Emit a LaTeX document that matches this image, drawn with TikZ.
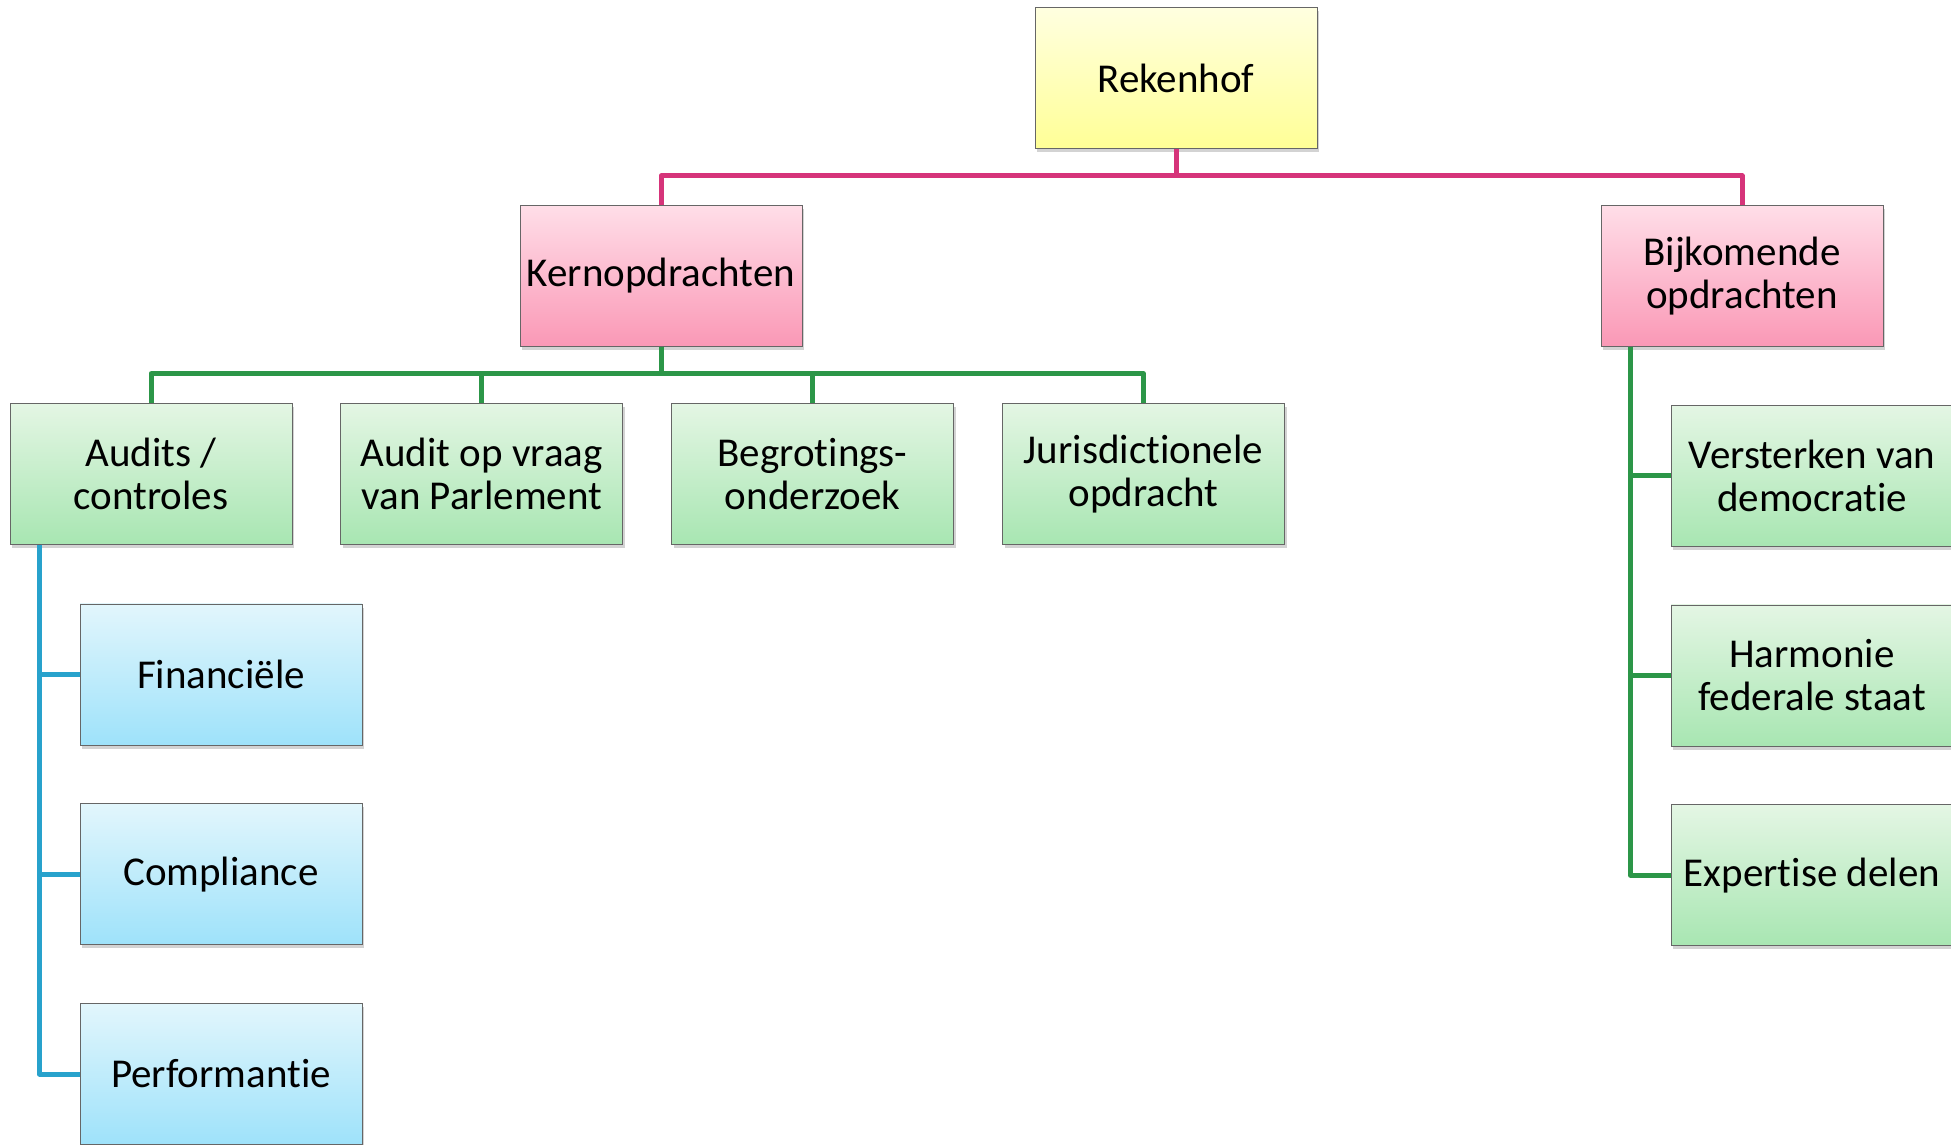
\documentclass[tikz,border=0pt]{standalone}
\usepackage{fontspec}
\setmainfont[Ligatures=NoCommon]{Carlito}
\usepackage{tikz}
\usetikzlibrary{positioning,shadows}

\definecolor{lijnroze}{RGB}{214,52,122}
\definecolor{lijngroen}{RGB}{44,150,72}
\definecolor{lijnblauw}{RGB}{40,162,204}

\begin{document}
\begin{tikzpicture}[node distance=29pt]
	\tikzstyle{box}
	  =[draw=gray!80!black, rectangle, minimum width=141pt, 
	  minimum height=70.5pt, align=center, inner sep=2pt,
	  font=\fontsize{20.5}{21.5}\selectfont,
	  drop shadow={shadow xshift=1.2pt, shadow yshift=-1.8pt, opacity=0.35}]
	\tikzstyle{box_geel}
	  =[box, top color={rgb,255:red,255;green,255;blue,224}, 
	  bottom color={rgb,255:red,255;green,255;blue,150}]
	\tikzstyle{box_roze}
	  =[box, top color={rgb,255:red,255;green,222;blue,232}, 
	  bottom color={rgb,255:red,250;green,152;blue,182}]
	\tikzstyle{box_groen}
	  =[box, top color={rgb,255:red,228;green,246;blue,228}, 
	  bottom color={rgb,255:red,168;green,230;blue,178}]
	\tikzstyle{box_blauw}
	  =[box, top color={rgb,255:red,226;green,246;blue,252}, 
	  bottom color={rgb,255:red,158;green,226;blue,250}]
	\tikzstyle{lijn}
	  =[line width=2.5pt, line join=round]

	\useasboundingbox (0,0) rectangle (975.5pt,-572.5pt);

	\node[box_geel] (rek) at (588pt,-39pt) {Rekenhof};
	\node[box_roze] (kern)
	  [below=28pt of rek, xshift=-257.5pt] {Kernopdrachten};
	\node[box_roze] (bijk)
	  [below=28pt of rek, xshift=283pt] {Bijkomende\\opdrachten};

	\node[box_groen] (audits)
	  [below=28pt of kern, xshift=-255pt] {Audits /\\controles};
	\node[box_groen] (vraag)
	  [right=24pt of audits] {Audit op vraag\\van Parlement};
	\node[box_groen] (begr)
	  [right=24pt of vraag] {Begrotings-\\onderzoek};
	\node[box_groen] (juris)
	  [right=24pt of begr] {Jurisdictionele\\opdracht};

	\node[box_blauw] (fin)
	  [below=29.5pt of audits, xshift=35pt] {Financiële};
	\node[box_blauw] (comp)
	  [below=of fin] {Compliance};
	\node[box_blauw] (perf)
	  [below=of comp] {Performantie};

	\node[box_groen] (vers)
	  [below=29pt of bijk, xshift=35pt] {Versterken van\\democratie};
	\node[box_groen] (harm)
	  [below=of vers] {Harmonie\\federale staat};
	\node[box_groen] (exp)
	  [below=of harm] {Expertise delen};

	% roze lijnen
	\draw[lijn, lijnroze] (rek.south) -- ++(0,-13.5pt) -| (kern.north);
	\draw[lijn, lijnroze] (rek.south) -- ++(0,-13.5pt) -| (bijk.north);

	% groene lijnen
	\foreach \n in {audits,vraag,begr,juris}
	  \draw[lijn, lijngroen] (kern.south) -- ++(0,-13.5pt) -| (\n.north);
	\foreach \n in {vers,harm,exp}
	  \draw[lijn, lijngroen] ([xshift=15pt]bijk.south west) |- (\n.west);

	% blauwe lijnen
	\foreach \n in {fin,comp,perf}
	  \draw[lijn, lijnblauw] ([xshift=15pt]audits.south west) |- (\n.west);
\end{tikzpicture}
\end{document}
